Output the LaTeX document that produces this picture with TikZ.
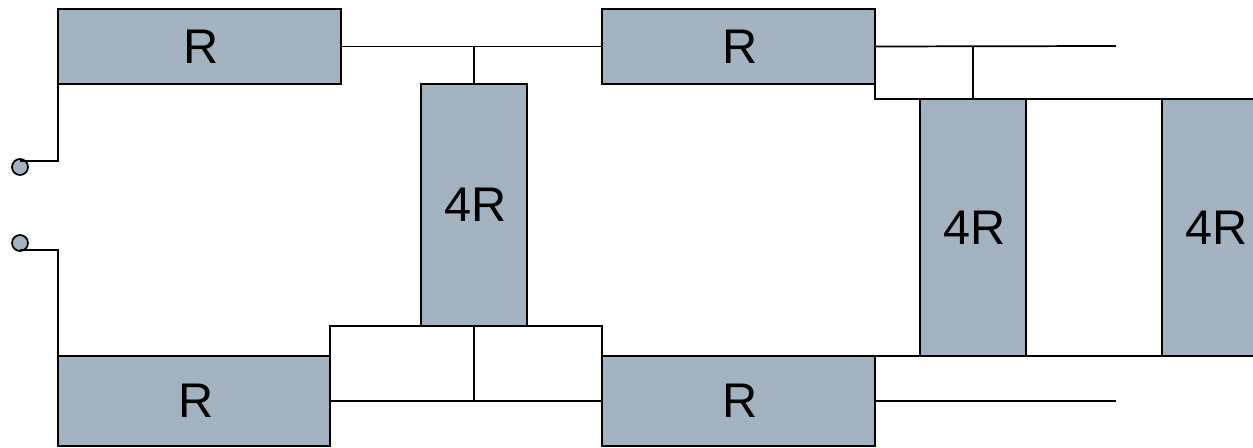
\documentclass[tikz,border=0pt]{standalone}
\usepackage{fontspec}
\setmainfont{Liberation Sans}
\usepackage{tikz}
\tikzset{
  res/.style={draw=black,fill=resfill,line width=1.3pt,inner sep=0pt,outer sep=0pt,font=\fontsize{36.5}{40}\selectfont,execute at begin node={\hspace{2.5pt}}},
  wire/.style={line width=1.3pt,line join=miter},
  term/.style={circle,draw=black,fill=resfill,line width=1.3pt,inner sep=0pt,outer sep=0pt,minimum size=12pt}
}
\definecolor{resfill}{HTML}{A3B2C1}

\begin{document}
\begin{tikzpicture}[x=0.75pt,y=0.75pt,yscale=-1,xscale=1]
\useasboundingbox (0,0) rectangle (1253,448);
\clip (0,0) rectangle (1253,448);

% Series resistors
\node [res,minimum width=212.25pt,minimum height=56.25pt] (Rtopa) at (199.5,46.5) {R};
\node [res,minimum width=204.75pt,minimum height=56.25pt] (Rtopb) at (738.5,46.5) {R};
\node [res,minimum width=204pt,minimum height=67.5pt] (Rbota) at (194,401) {R};
\node [res,minimum width=204.75pt,minimum height=67.5pt] (Rbotb) at (738.5,401) {R};

% Shunt resistors
\node [res,minimum width=79.5pt,minimum height=181.5pt] (Rsha) at (474,205) {4R};
\node [res,minimum width=79.5pt,minimum height=192.75pt] (Rshb) at (973,227.5) {4R};
\node [res,minimum width=79.5pt,minimum height=192.75pt] (Rshc) at (1215,227.5) {4R};

% Terminals
\node [term] (terma) at (20,167) {};
\node [term] (termb) at (20,243) {};

% Free ends and corners
\coordinate (enda) at (1116,46);
\coordinate (endb) at (1116,401);
\coordinate (busa) at (875,99);
\coordinate (busb) at (875,356);
\coordinate (loopa) at (330,326);
\coordinate (loopb) at (602,326);
\coordinate (biasa) at (58,161);
\coordinate (biasb) at (58,250);

% Left side
\draw [wire] (terma |- biasa) -- (biasa) -- (Rtopa.south west);
\draw [wire] (termb |- biasb) -- (biasb) -- (Rbota.north west);

% Top rail
\draw [wire] (Rtopa.east) -- (Rtopb.west);
\draw [wire] (Rsha.north) -- (Rsha.north |- Rtopa.east);
\draw [wire] (Rtopb.east) -- (enda);
\draw [wire] (Rtopb.south east) -- (busa) -- (Rshc.north west);
\draw [wire] (Rshb.north) -- (Rshb.north |- enda);

% Bottom rail
\draw [wire] (Rbota.north east) -- (loopa) -- (loopb) -- (Rbotb.north west);
\draw [wire] (Rbota.east) -- (Rbotb.west);
\draw [wire] (Rsha.south) -- (Rsha.south |- Rbota.east);
\draw [wire] (busb) -- (Rshc.south west);
\draw [wire] (Rbotb.east) -- (endb);
\end{tikzpicture}
\end{document}
